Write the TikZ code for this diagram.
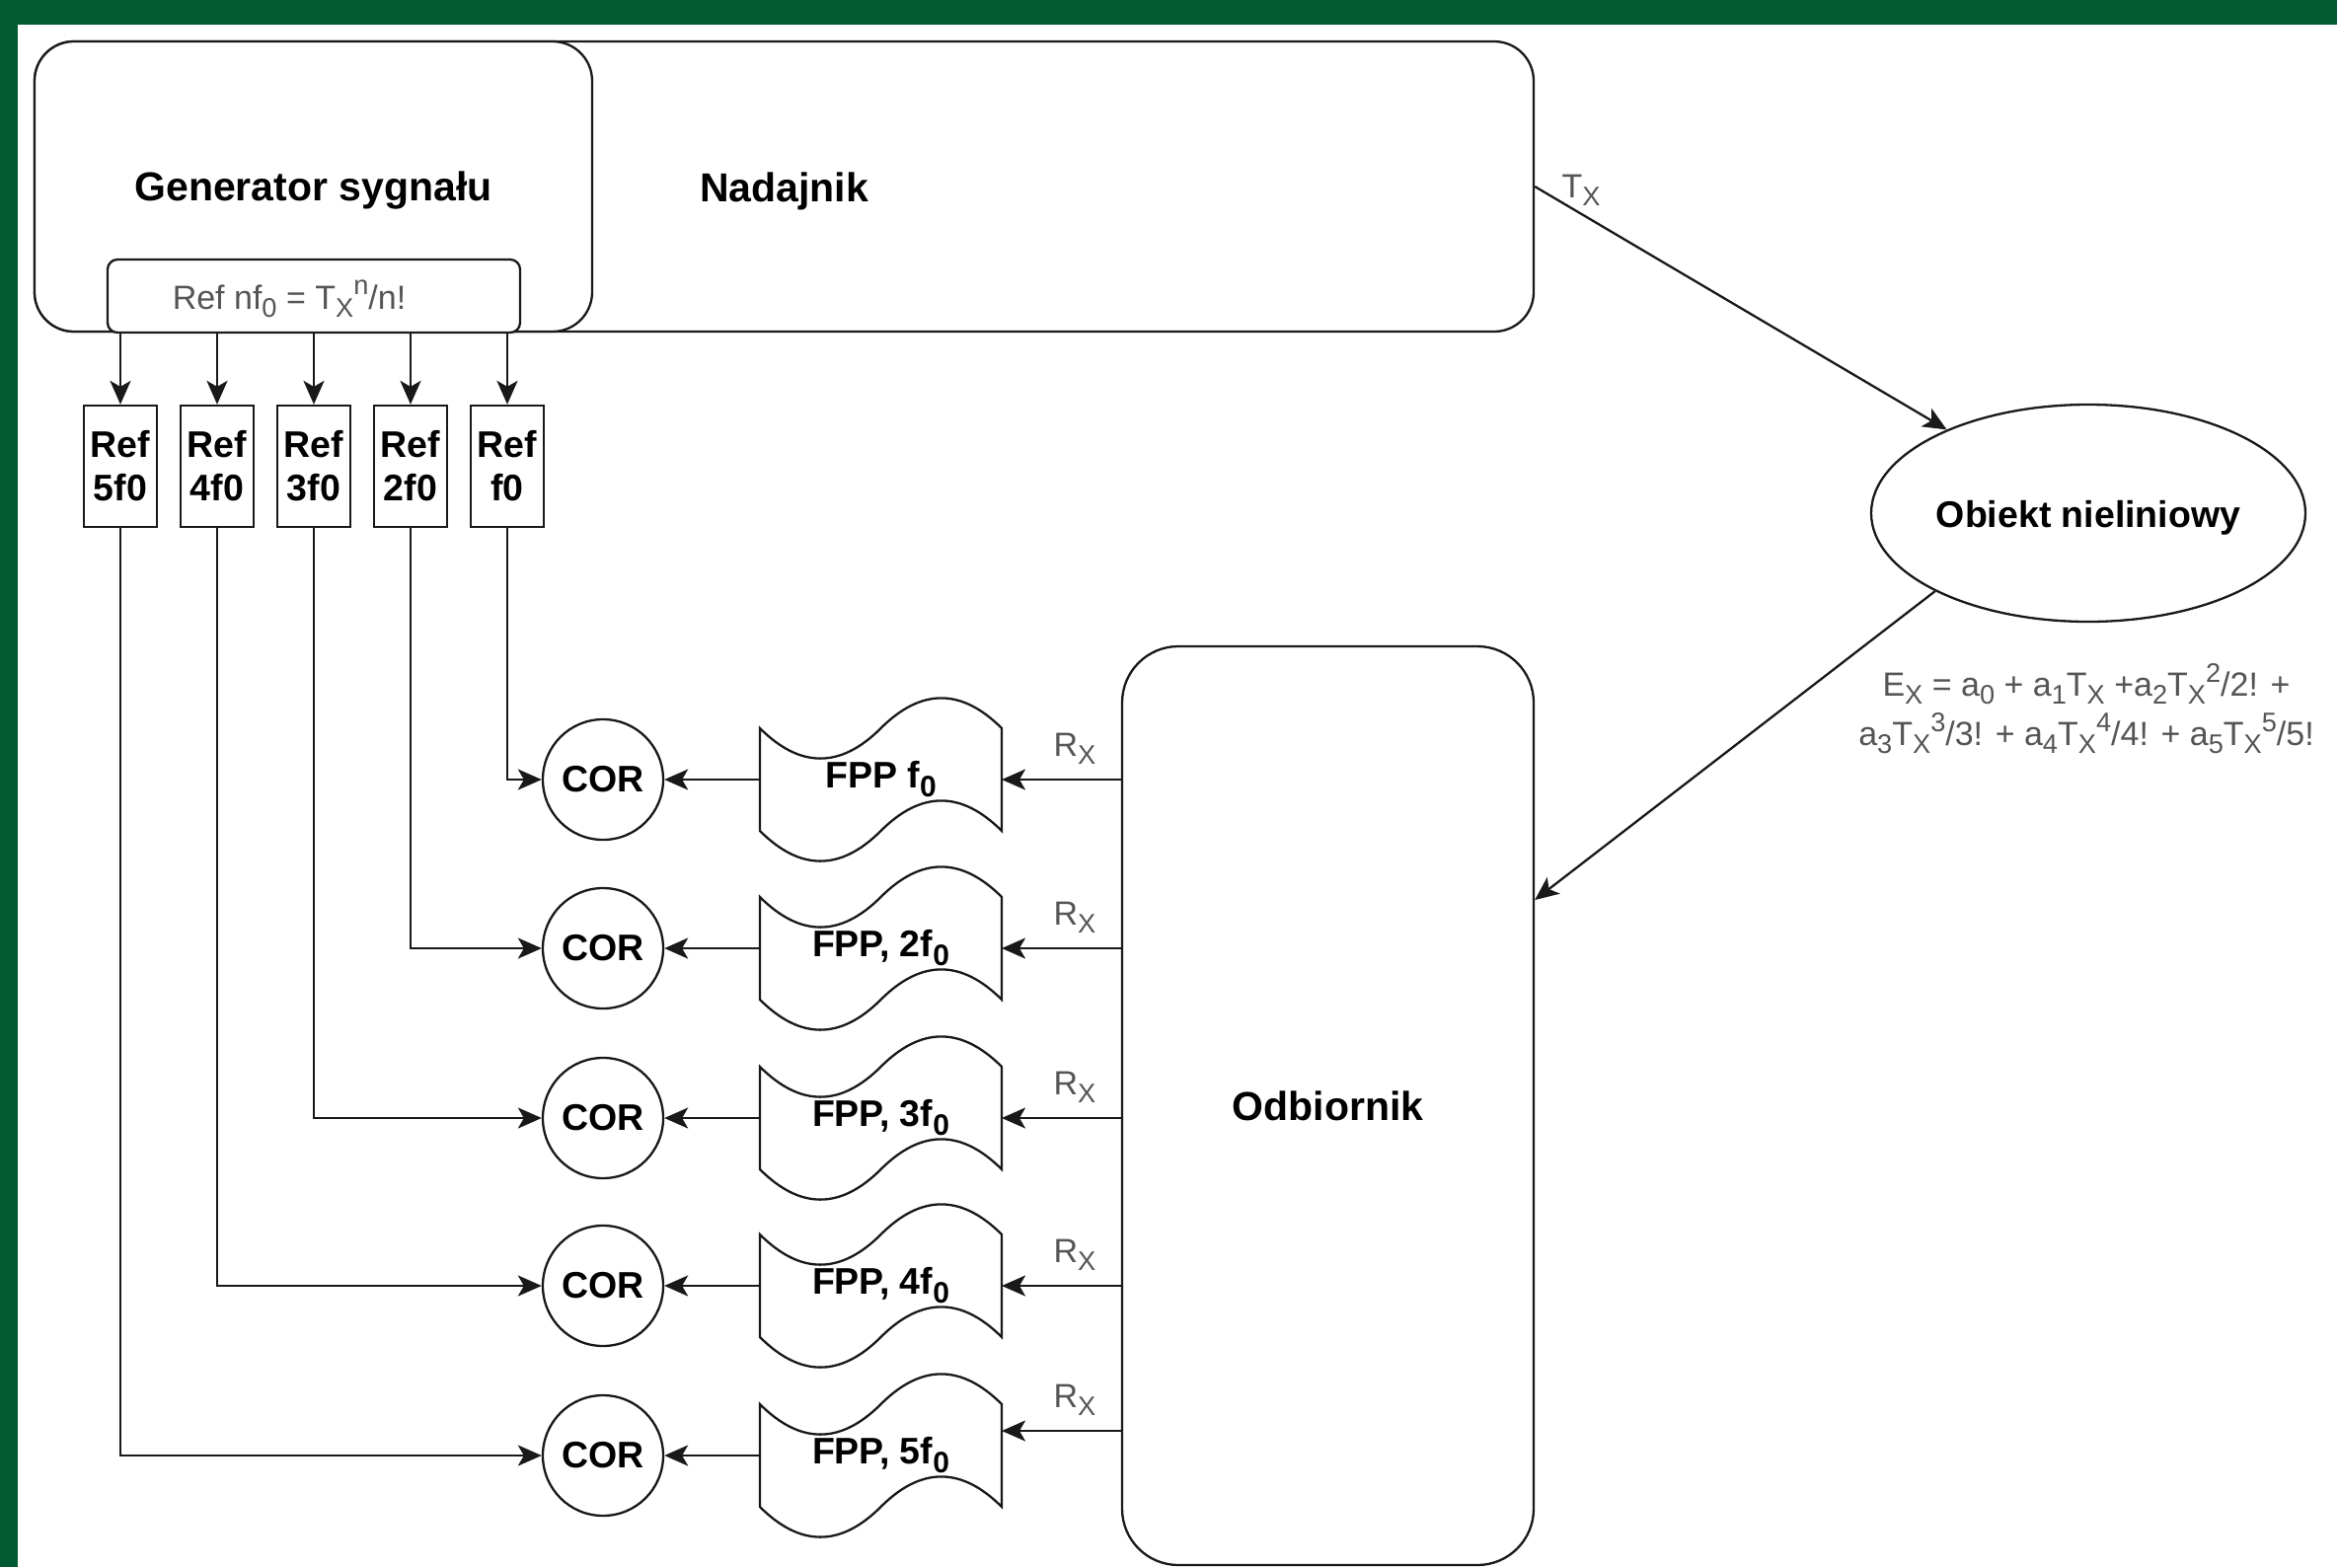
\documentclass[tikz,border=0pt]{standalone}
\usepackage{fontspec}
\usepackage{graphicx}
\setmainfont{Liberation Sans}
\usetikzlibrary{arrows.meta,shapes.geometric,calc}
\definecolor{frame}{RGB}{0,91,51}
\definecolor{ln}{RGB}{25,25,25}
\definecolor{txg}{RGB}{85,85,85}
\newcommand\bigf{\fontsize{41}{49}\selectfont\bfseries}
\newcommand\midf{\fontsize{37.5}{44}\selectfont\bfseries}
\newcommand\regf{\fontsize{34}{50}\selectfont}
\newcommand\dn[1]{\raisebox{-0.24em}{\scalebox{0.8}{#1}}}
\newcommand\up[1]{\raisebox{0.42em}{\scalebox{0.8}{#1}}}
\newcommand\tapeoutline[1]{%
 \draw[shp,fill=white] (#1.north west)
  .. controls ($(#1.north west)+(40.83,40.8)$) and ($(#1.north west)+(81.67,40.8)$) .. ($(#1.north west)+(122.5,0)$)
  .. controls ($(#1.north west)+(163.33,-40.8)$) and ($(#1.north west)+(204.17,-40.8)$) .. (#1.north east)
  -- (#1.south east)
  .. controls ($(#1.south east)+(-40.83,-40.8)$) and ($(#1.south east)+(-81.67,-40.8)$) .. ($(#1.south east)+(-122.5,0)$)
  .. controls ($(#1.south east)+(-163.33,40.8)$) and ($(#1.south east)+(-204.17,40.8)$) .. (#1.south west)
  -- cycle;}
\begin{document}
\begin{tikzpicture}[x=1pt,y=-1pt,
  shp/.style={draw=ln,line width=2.3pt},
  arr/.style={draw=ln,line width=2.3pt,-{Stealth[length=24pt,width=21pt,inset=6pt]}},
  refstyle/.style={shp,fill=white,minimum width=74pt,minimum height=123pt,inner sep=0pt,font=\midf,align=center},
  corstyle/.style={shp,fill=white,circle,minimum size=122pt,inner sep=0pt,font=\midf},
  fppstyle/.style={minimum width=245pt,minimum height=104pt,inner sep=0pt,outer sep=0pt,font=\midf},
  glab/.style={text=txg,font=\regf,inner sep=0pt}
]
\useasboundingbox (0,0) rectangle (2368,1588);
\fill[white] (0,0) rectangle (2368,1588);
\fill[frame] (0,0) rectangle (2368,25);
\fill[frame] (0,0) rectangle (18,1588);

% transmitter
\node[shp,fill=white,rounded corners=40pt,minimum width=1519pt,minimum height=294pt] (nad) at (794.5,189) {};
\node[font=\bigf] (nadt) at (794.5,194) {Nadajnik};
\node[shp,fill=white,rounded corners=40pt,minimum width=565pt,minimum height=294pt] (gen) at (317.5,189) {};
\node[font=\bigf] (gent) at (317.5,193) {Generator sygnału};
\node[shp,fill=white,rounded corners=10pt,minimum width=418pt,minimum height=74pt] (refbox) at (318,300) {};
\node[glab] (reftxt) at (293,303) {Ref nf\dn{0} = T\dn{X}\up{n}/n!};

% reference boxes
\node[refstyle] (rf5) at (122,472.5) {Ref\\5f0};
\node[refstyle] (rf4) at (220,472.5) {Ref\\4f0};
\node[refstyle] (rf3) at (318,472.5) {Ref\\3f0};
\node[refstyle] (rf2) at (416,472.5) {Ref\\2f0};
\node[refstyle] (rf1) at (514,472.5) {Ref\\f0};
\foreach \r in {rf1,rf2,rf3,rf4,rf5}{
  \draw[arr] (\r.north |- refbox.south) -- (\r.north);
}

% correlators
\node[corstyle] (c1) at (611,790) {COR};
\node[corstyle] (c2) at (611,961) {COR};
\node[corstyle] (c3) at (611,1133) {COR};
\node[corstyle] (c4) at (611,1303) {COR};
\node[corstyle] (c5) at (611,1475) {COR};

% filters
\node[fppstyle] (f1) at (892.5,790) {};
\node[fppstyle] (f2) at (892.5,961) {};
\node[fppstyle] (f3) at (892.5,1133) {};
\node[fppstyle] (f4) at (892.5,1303) {};
\node[fppstyle] (f5) at (892.5,1475) {};
\foreach \f in {f1,f2,f3,f4,f5}{\tapeoutline{\f}}
\node[font=\midf] (f1t) at (f1) {FPP f\dn{0}};
\node[font=\midf] (f2t) at (f2) {FPP, 2f\dn{0}};
\node[font=\midf] (f3t) at (f3) {FPP, 3f\dn{0}};
\node[font=\midf] (f4t) at (f4) {FPP, 4f\dn{0}};
\node[font=\midf] (f5t) at (f5) {FPP, 5f\dn{0}};

% receiver
\node[shp,fill=white,rounded corners=57pt,minimum width=417pt,minimum height=931pt,font=\bigf] (odb) at (1345.5,1120.5) {Odbiornik};

% nonlinear object
\node[shp,fill=white,ellipse,minimum width=440pt,minimum height=220pt,inner sep=0pt] (obj) at (2116,520) {};
\node[font=\midf] (objt) at (2116,525) {Obiekt nieliniowy};

% Ref -> COR
\draw[arr] (rf1.south) |- (c1.west);
\draw[arr] (rf2.south) |- (c2.west);
\draw[arr] (rf3.south) |- (c3.west);
\draw[arr] (rf4.south) |- (c4.west);
\draw[arr] (rf5.south) |- (c5.west);

% FPP -> COR
\foreach \i in {1,...,5}{
  \draw[arr] (f\i.west) -- (c\i.east);
}

% Odbiornik -> FPP
\draw[arr] (odb.west |- f1.east) -- (f1.east);
\draw[arr] (odb.west |- f2.east) -- (f2.east);
\draw[arr] (odb.west |- f3.east) -- (f3.east);
\draw[arr] (odb.west |- f4.east) -- (f4.east);
\coordinate (f5in) at ([yshift=25pt]f5.east);
\draw[arr] (odb.west |- f5in) -- (f5in);

\node[glab] (rx1) at (1089,759) {R\dn{X}};
\node[glab] (rx2) at (1089,930) {R\dn{X}};
\node[glab] (rx3) at (1089,1102) {R\dn{X}};
\node[glab] (rx4) at (1089,1272) {R\dn{X}};
\node[glab] (rx5) at (1089,1419) {R\dn{X}};

% transmitter -> object -> receiver
\draw[arr] (nad.east) -- (obj);
\node[glab] (tx) at (1602,193) {T\dn{X}};
\coordinate (odbin) at ([yshift=208.5pt]odb.east);
\draw[arr] (obj.207) -- (odbin);

\node[glab,align=center] (eq) at (2114,718) {E\dn{X} = a\dn{0} + a\dn{1}T\dn{X} +a\dn{2}T\dn{X}\up{2}/2! +\\a\dn{3}T\dn{X}\up{3}/3! + a\dn{4}T\dn{X}\up{4}/4! + a\dn{5}T\dn{X}\up{5}/5!};
\end{tikzpicture}
\end{document}
